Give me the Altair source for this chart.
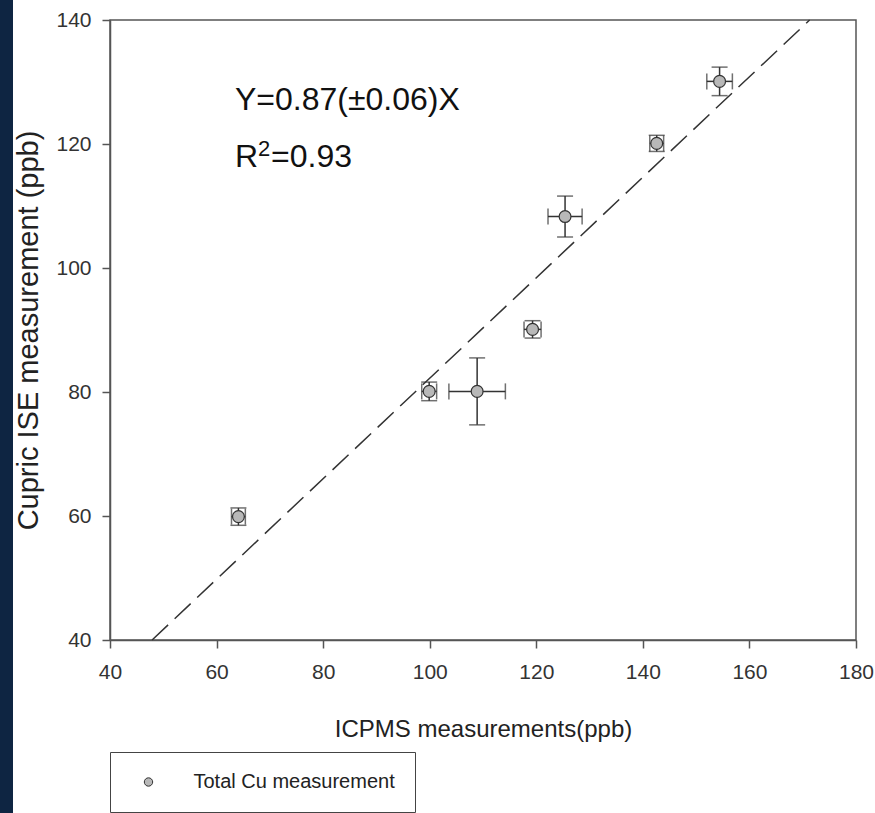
import altair as alt
import pandas as pd

# ---- data ----
icpms = [64.1, 99.9, 108.9, 119.3, 125.4, 142.6, 154.4]
icpms_err = [1.3, 1.4, 5.3, 1.6, 3.2, 1.3, 2.4]
ise = [59.9, 80.1, 80.1, 90.1, 108.3, 120.1, 130.1]
ise_err = [1.4, 1.5, 5.4, 1.4, 3.3, 1.3, 2.3]
series_name = "Total Cu measurement"

fit_x = [47.9, 171.3]
fit_y = [40, 140]

x_ticks = [40, 60, 80, 100, 120, 140, 160, 180]
y_ticks = [40, 60, 80, 100, 120, 140]

X_TITLE = "ICPMS measurements(ppb)"
Y_TITLE = "Cupric ISE measurement (ppb)"
FONT = "Liberation Sans, Arial, sans-serif"
INK = "#333333"

df = pd.DataFrame({
    "x": icpms, "y": ise,
    "xlo": [a - e for a, e in zip(icpms, icpms_err)],
    "xhi": [a + e for a, e in zip(icpms, icpms_err)],
    "ylo": [a - e for a, e in zip(ise, ise_err)],
    "yhi": [a + e for a, e in zip(ise, ise_err)],
    "series": [series_name] * len(icpms),
})
fit = pd.DataFrame({"x": fit_x, "y": fit_y})
one = pd.DataFrame({"k": [0]})

xs = alt.Scale(domain=[40, 180], nice=False, zero=False)
ys = alt.Scale(domain=[40, 140], nice=False, zero=False)


def X(f):
    return alt.X(f"{f}:Q", scale=xs, title=X_TITLE,
                 axis=alt.Axis(values=x_ticks, labelFlush=False))


def Y(f):
    return alt.Y(f"{f}:Q", scale=ys, title=Y_TITLE,
                 axis=alt.Axis(values=y_ticks, labelFlush=False))


base = alt.Chart(df)

border = alt.Chart(one).mark_rect(color="#0e2542").encode(
    x=alt.value(-110), x2=alt.value(-97), y=alt.value(-20), y2=alt.value(793)
)

fit_line = alt.Chart(fit).mark_line(
    color=INK, strokeWidth=1.5, strokeDash=[22, 9]
).encode(x=X("x"), y=Y("y"))

xerr = base.mark_rule(color=INK, strokeWidth=1.5).encode(
    x=X("xlo"), x2="xhi:Q", y=Y("y"))
yerr = base.mark_rule(color=INK, strokeWidth=1.5).encode(
    x=X("x"), y=Y("ylo"), y2="yhi:Q")

cap_x_lo = base.mark_tick(orient="vertical", size=16, thickness=1.5, color=INK).encode(
    x=X("xlo"), y=Y("y"))
cap_x_hi = base.mark_tick(orient="vertical", size=16, thickness=1.5, color=INK).encode(
    x=X("xhi"), y=Y("y"))
cap_y_lo = base.mark_tick(orient="horizontal", size=16, thickness=1.5, color=INK).encode(
    x=X("x"), y=Y("ylo"))
cap_y_hi = base.mark_tick(orient="horizontal", size=16, thickness=1.5, color=INK).encode(
    x=X("x"), y=Y("yhi"))

points = base.mark_point(
    shape="circle", filled=True, size=140, stroke=INK, strokeWidth=1.2, opacity=1
).encode(
    x=X("x"), y=Y("y"),
    fill=alt.Fill(
        "series:N",
        scale=alt.Scale(range=["#b8b8b8"]),
        legend=alt.Legend(
            title=None, orient="none", legendX=0, legendY=732, padding=20,
            strokeColor="#444444", symbolType="circle", symbolSize=70,
            symbolStrokeColor=INK, symbolStrokeWidth=1, symbolOffset=8.5,
            labelOffset=35, labelFontSize=20, labelFont=FONT, labelColor="#222222",
            labelLimit=0,
        ),
    ),
)

txt1 = alt.Chart(one).mark_text(
    text="Y=0.87(±0.06)X", font=FONT, fontSize=32, align="left",
    baseline="alphabetic", color="#111111"
).encode(x=alt.value(125), y=alt.value(90))
txt_r = alt.Chart(one).mark_text(
    text="R", font=FONT, fontSize=32, align="left",
    baseline="alphabetic", color="#111111"
).encode(x=alt.value(125), y=alt.value(147))
txt_sup = alt.Chart(one).mark_text(
    text="2", font=FONT, fontSize=22, align="left",
    baseline="alphabetic", color="#111111"
).encode(x=alt.value(148), y=alt.value(136))
txt_r2 = alt.Chart(one).mark_text(
    text="=0.93", font=FONT, fontSize=32, align="left",
    baseline="alphabetic", color="#111111"
).encode(x=alt.value(161), y=alt.value(147))

chart = alt.layer(
    border, fit_line, xerr, yerr, cap_x_lo, cap_x_hi, cap_y_lo, cap_y_hi, points,
    txt1, txt_r, txt_sup, txt_r2,
).properties(
    width=746, height=620,
    padding={"left": 110, "top": 20, "right": 19, "bottom": 173},
    autosize=alt.AutoSizeParams(type="none"),
    background="white",
).configure_view(
    stroke="#555555", strokeWidth=1.5
).configure_axis(
    grid=False, domainColor="#555555", domainWidth=1.5,
    tickColor="#555555", tickWidth=1.5, tickSize=8,
    labelFont=FONT, labelFontSize=21, labelColor=INK,
    titleFont=FONT, titleFontWeight="normal", titleColor="#222222",
).configure_axisX(
    labelPadding=13, titleFontSize=24, titlePadding=35,
).configure_axisY(
    labelPadding=11, titleFontSize=29, titlePadding=12,
)

chart.save("out.html", embed_options={"renderer": "svg", "actions": False})
